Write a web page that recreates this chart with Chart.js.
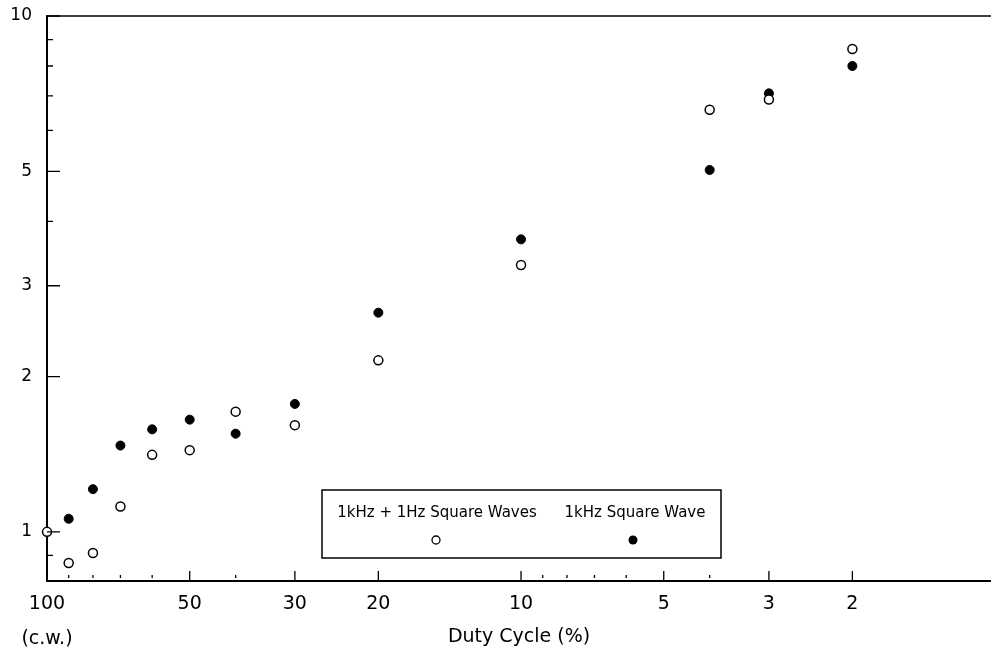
<!DOCTYPE html>
<html>
<head>
<meta charset="utf-8">
<script src="https://cdn.jsdelivr.net/npm/chart.js@4.4.1/dist/chart.umd.min.js"></script>
<style>
  html, body { margin: 0; padding: 0; background: #fff; overflow: hidden; width: 991px; height: 648px; }
  canvas { display: block; }
</style>
</head>
<body>
<!-- canvas a bit wider than the window so the plot runs off the right edge like the scan -->
<canvas id="myChart" width="997" height="648"></canvas>
<script>
// duty cycle in %, 100 = continuous wave
const dutyCycle = [100, 90, 80, 70, 60, 50, 40, 30, 20, 10, 4, 3, 2];
// open circles
const dualWave = [1.00, 0.87, 0.91, 1.12, 1.41, 1.44, 1.71, 1.61, 2.15, 3.29, 6.58, 6.89, 8.63];
// filled circles
const singleWave = [null, 1.06, 1.21, 1.47, 1.58, 1.65, 1.55, 1.77, 2.66, 3.69, 5.03, 7.08, 8.00];

const seriesLabels = ['1kHz + 1Hz Square Waves', '1kHz Square Wave'];

const xMajor = [100, 50, 30, 20, 10, 5, 3, 2];
const xMinor = [90, 80, 70, 60, 40, 9, 8, 7, 6, 4];
const yMajor = [1, 2, 3, 5, 10];
const yMinor = [0.9, 4, 6, 7, 8, 9];

const FONT = 'DejaVu Sans';

function toPoints(values) {
  return dutyCycle.map((d, i) => ({ x: d, y: values[i] })).filter(p => p.y !== null);
}

// ticks pointing inwards + top frame line
const frame = {
  id: 'frame',
  afterDraw(chart) {
    const { ctx, chartArea: a, scales: { x, y } } = chart;
    ctx.save();
    ctx.strokeStyle = '#000';
    ctx.lineWidth = 1.5;
    ctx.beginPath();
    ctx.moveTo(a.left, a.top);
    ctx.lineTo(chart.width, a.top);
    ctx.stroke();

    ctx.lineWidth = 1.3;
    ctx.beginPath();
    yMajor.forEach(v => { const py = y.getPixelForValue(v); ctx.moveTo(a.left, py); ctx.lineTo(a.left + 13, py); });
    yMinor.forEach(v => { const py = y.getPixelForValue(v); ctx.moveTo(a.left, py); ctx.lineTo(a.left + 6, py); });
    xMajor.forEach(v => { if (v === 100) return; const px = x.getPixelForValue(v); ctx.moveTo(px, a.bottom); ctx.lineTo(px, a.bottom - 10); });
    xMinor.forEach(v => { const px = x.getPixelForValue(v); ctx.moveTo(px, a.bottom - 3); ctx.lineTo(px, a.bottom - 6); });
    ctx.stroke();
    ctx.restore();
  }
};

// boxed legend inside the plot
const boxLegend = {
  id: 'boxLegend',
  afterDraw(chart) {
    const { ctx } = chart;
    ctx.save();
    ctx.fillStyle = '#fff';
    ctx.fillRect(322, 490, 399, 68);
    ctx.strokeStyle = '#000';
    ctx.lineWidth = 1.5;
    ctx.strokeRect(322, 490, 399, 68);
    ctx.fillStyle = '#000';
    ctx.font = '15px "' + FONT + '"';
    ctx.textAlign = 'center';
    ctx.textBaseline = 'middle';
    ctx.fillText(seriesLabels[0], 437, 513);
    ctx.fillText(seriesLabels[1], 635, 513);
    ctx.beginPath();
    ctx.arc(436, 540, 4, 0, Math.PI * 2);
    ctx.fillStyle = '#fff';
    ctx.fill();
    ctx.lineWidth = 1.3;
    ctx.stroke();
    ctx.beginPath();
    ctx.arc(633, 540, 4.5, 0, Math.PI * 2);
    ctx.fillStyle = '#000';
    ctx.fill();
    ctx.restore();
  }
};

const ctx = document.getElementById('myChart');

const myChart = new Chart(ctx, {
  type: 'scatter',
  data: {
    datasets: [
      {
        label: seriesLabels[0],
        data: toPoints(dualWave),
        pointRadius: 4.5,
        backgroundColor: '#fff',
        borderColor: '#000',
        borderWidth: 1.5,
        clip: false
      },
      {
        label: seriesLabels[1],
        data: toPoints(singleWave),
        pointRadius: 4.5,
        backgroundColor: '#000',
        borderColor: '#000',
        borderWidth: 1,
        clip: false
      }
    ]
  },
  options: {
    responsive: false,
    animation: false,
    layout: { padding: { top: 16, right: 0, bottom: 0, left: 0 } },
    plugins: {
      legend: { display: false },
      tooltip: { enabled: false }
    },
    scales: {
      x: {
        type: 'logarithmic',
        reverse: true,
        min: 1.02,
        max: 100,
        grid: { display: false, drawTicks: false },
        border: { display: true, color: '#000', width: 2 },
        afterBuildTicks: s => { s.ticks = xMajor.map(v => ({ value: v })); },
        afterFit: s => { s.height = 67; s.paddingLeft = 0; s.paddingRight = 0; },
        ticks: {
          autoSkip: false,
          maxRotation: 0,
          padding: 6,
          color: '#000',
          font: { family: FONT, size: 19, lineHeight: '35px' },
          callback: v => v === 100 ? ['100', '(c.w.)'] : String(v)
        },
        title: {
          display: true,
          text: 'Duty Cycle (%)',
          color: '#000',
          font: { family: FONT, size: 19 },
          padding: { top: 0, bottom: 0 }
        }
      },
      y: {
        type: 'logarithmic',
        min: 0.803,
        max: 10,
        grid: { display: false, drawTicks: false },
        border: { display: true, color: '#000', width: 2 },
        afterBuildTicks: s => { s.ticks = yMajor.map(v => ({ value: v })); },
        afterFit: s => { s.width = 47; s.paddingTop = 0; s.paddingBottom = 0; },
        ticks: {
          padding: 15,
          color: '#000',
          font: { family: FONT, size: 17 },
          callback: v => String(v)
        }
      }
    }
  },
  plugins: [frame, boxLegend]
});
</script>
</body>
</html>
